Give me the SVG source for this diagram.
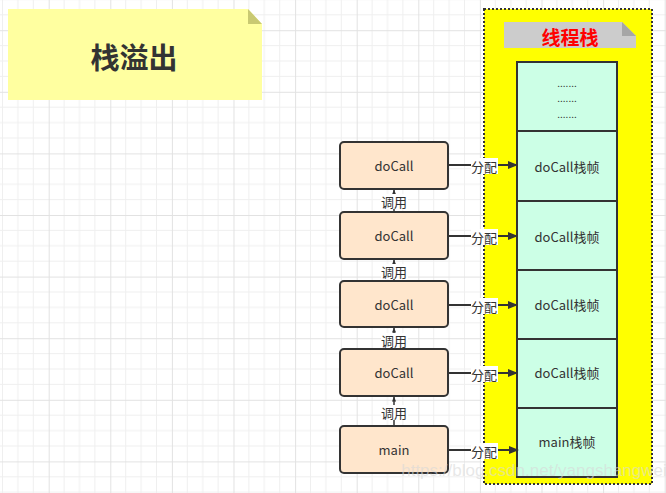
<svg xmlns="http://www.w3.org/2000/svg" width="666" height="493" viewBox="0 0 666 493">
<defs>
<pattern id="grid" x="48.7" y="30.2" width="61.6" height="61.6" patternUnits="userSpaceOnUse">
<path d="M15.4 0V61.6M30.8 0V61.6M46.2 0V61.6M0 15.4H61.6M0 30.8H61.6M0 46.2H61.6" stroke="#efefef" stroke-width="1" fill="none"/>
<path d="M0.5 0V61.6M0 0.5H61.6" stroke="#e2e2e2" stroke-width="1" fill="none"/>
</pattern>
<marker id="blk" viewBox="0 0 10 10" refX="9" refY="5" markerWidth="10" markerHeight="10" markerUnits="userSpaceOnUse" orient="auto">
<path d="M0 1L10 5L0 9Z" fill="#333"/>
</marker>
<marker id="sm" viewBox="0 0 6 6" refX="5.5" refY="3" markerWidth="5" markerHeight="5" markerUnits="userSpaceOnUse" orient="auto">
<path d="M0 0.5L6 3L0 5.5Z" fill="#333"/>
</marker>
</defs>
<style>
text{font-family:"Noto Sans CJK SC","Liberation Sans",sans-serif;fill:#333;text-anchor:middle;dominant-baseline:central}
.call{fill:#ffe6cc;stroke:#333;stroke-width:2}
.frame{fill:#ccffe6;stroke:#333;stroke-width:2}
.lbl{font-size:13px}
.dots{font-size:10px}
.edge{stroke:#333;fill:none}
.bg{fill:#fff}
</style>
<rect width="666" height="493" fill="#fff"/>
<rect width="666" height="493" fill="url(#grid)"/>

<g id="title">
<path d="M8 9H248L262 24V100H8Z" fill="#ffffa0"/>
<path d="M248 9L262 24H248Z" fill="#c9c972"/>
<text x="134" y="56" font-size="29" font-weight="bold">栈溢出</text>
</g>

<g id="container">
<rect x="484" y="9" width="168" height="475" fill="#ffff00" stroke="#333" stroke-width="2" stroke-dasharray="2 2"/>
</g>

<g id="stackLabel">
<path d="M504 22H622L636 36V48H504Z" fill="#cccccc"/>
<path d="M622 22L636 36H622Z" fill="#a6a6a6"/>
<text x="570" y="36" font-size="19" font-weight="bold" style="fill:#ff0000">线程栈</text>
</g>

<g id="frameTop">
<rect class="frame" x="517" y="62" width="100" height="69"/>
<text class="dots" x="567" y="82">.......</text>
<text class="dots" x="567" y="97">.......</text>
<text class="dots" x="567" y="113">.......</text>
</g>
<g id="frame4"><rect class="frame" x="517" y="131" width="100" height="70"/><text class="lbl" x="567" y="166">doCall栈帧</text></g>
<g id="frame3"><rect class="frame" x="517" y="201" width="100" height="69"/><text class="lbl" x="567" y="236">doCall栈帧</text></g>
<g id="frame2"><rect class="frame" x="517" y="270" width="100" height="69"/><text class="lbl" x="567" y="304">doCall栈帧</text></g>
<g id="frame1"><rect class="frame" x="517" y="339" width="100" height="69"/><text class="lbl" x="567" y="372">doCall栈帧</text></g>
<g id="frameMain"><rect class="frame" x="517" y="408" width="100" height="69"/><text class="lbl" x="567" y="441">main栈帧</text></g>

<g id="call4"><rect class="call" x="340" y="142" width="108" height="47" rx="4"/><text class="lbl" x="394" y="165">doCall</text></g>
<g id="call3"><rect class="call" x="340" y="212" width="108" height="47" rx="4"/><text class="lbl" x="394" y="235">doCall</text></g>
<g id="call2"><rect class="call" x="340" y="281" width="108" height="46" rx="4"/><text class="lbl" x="394" y="304">doCall</text></g>
<g id="call1"><rect class="call" x="340" y="349" width="108" height="47" rx="4"/><text class="lbl" x="394" y="372">doCall</text></g>
<g id="callMain"><rect class="call" x="340" y="426" width="108" height="47" rx="4"/><text class="lbl" x="394" y="449">main</text></g>

<g id="connectors">
<line class="edge" stroke-width="2" x1="449" y1="165" x2="517" y2="165" marker-end="url(#blk)"/>
<line class="edge" stroke-width="2" x1="449" y1="236" x2="517" y2="236" marker-end="url(#blk)"/>
<line class="edge" stroke-width="2" x1="449" y1="305" x2="517" y2="305" marker-end="url(#blk)"/>
<line class="edge" stroke-width="2" x1="449" y1="373" x2="517" y2="373" marker-end="url(#blk)"/>
<line class="edge" stroke-width="2" x1="449" y1="450" x2="518" y2="450" marker-end="url(#blk)"/>
<rect class="bg" x="471" y="158" width="27" height="16"/><text class="lbl" x="484" y="166">分配</text>
<rect class="bg" x="471" y="229" width="27" height="16"/><text class="lbl" x="484" y="237">分配</text>
<rect class="bg" x="471" y="298" width="27" height="16"/><text class="lbl" x="484" y="306">分配</text>
<rect class="bg" x="471" y="366" width="27" height="16"/><text class="lbl" x="484" y="374">分配</text>
<rect class="bg" x="471" y="443" width="27" height="16"/><text class="lbl" x="484" y="451">分配</text>

<line class="edge" stroke-width="1.5" x1="394" y1="212" x2="394" y2="190" marker-end="url(#sm)"/>
<line class="edge" stroke-width="1.5" x1="394" y1="281" x2="394" y2="260" marker-end="url(#sm)"/>
<line class="edge" stroke-width="1.5" x1="394" y1="349" x2="394" y2="328" marker-end="url(#sm)"/>
<line class="edge" stroke-width="1.5" x1="394" y1="426" x2="394" y2="397" marker-end="url(#sm)"/>
<rect class="bg" x="381" y="194" width="27" height="15"/><text class="lbl" x="394" y="201">调用</text>
<rect class="bg" x="381" y="264" width="27" height="15"/><text class="lbl" x="394" y="271">调用</text>
<rect class="bg" x="381" y="333" width="27" height="15"/><text class="lbl" x="394" y="340">调用</text>
<rect class="bg" x="381" y="405" width="27" height="15"/><text class="lbl" x="394" y="412">调用</text>
</g>

<text x="534" y="470" font-size="17" style="fill:#d8d8d8;fill-opacity:0.6;font-family:'Liberation Sans',sans-serif">https://blog.csdn.net/yangshangwei</text>
</svg>
